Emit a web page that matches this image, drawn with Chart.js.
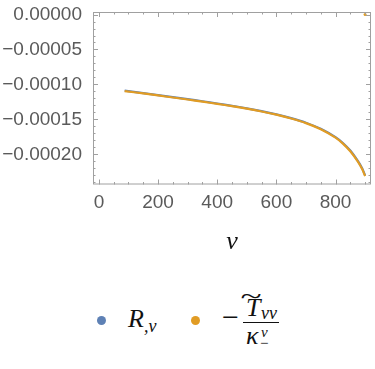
<!DOCTYPE html>
<html>
<head>
  <meta charset="utf-8">
  <title>R,v vs -T/kappa</title>
  <script src="https://cdn.jsdelivr.net/npm/chart.js"></script>
  <style>
    body {
      margin: 0;
      background: #fff;
      width: 375px;
      height: 369px;
      position: relative;
      overflow: hidden;
    }
    .chart-box {
      position: absolute;
      left: 0;
      top: 0;
      width: 375px;
      height: 270px;
    }
    /* legend drawn as plain html, Mathematica style */
    .legend {
      position: absolute;
      left: 0;
      top: 290px;
      width: 375px;
      height: 70px;
      font-family: "Liberation Serif", "DejaVu Serif", serif;
      font-style: italic;
      color: #111;
    }
    .legend span { position: absolute; line-height: 1; white-space: nowrap; }
    .dot { width: 9px; height: 9px; border-radius: 50%; }
    .big { font-size: 26px; }
    .small { font-size: 18px; }
    .tiny { font-size: 15px; }
    .up { font-style: normal; }
    .bar { width: 36px; height: 1px; background: #111; }
  </style>
</head>
<body>
  <div class="chart-box">
    <canvas id="rvChart"></canvas>
  </div>
  <div class="legend">
    <span class="dot" style="left:97px; top:25.5px; background:#5E81B5;"></span>
    <span class="big" style="left:128px; top:16px;">R</span>
    <span class="small" style="left:144px; top:27px;">,v</span>

    <span class="dot" style="left:190.5px; top:25.5px; background:#E19C24;"></span>
    <span class="up" style="left:222px; top:12px; font-size:30px;">&minus;</span>
    <span class="big up" style="left:244px; top:-7px; transform:scaleX(1.5);">~</span>
    <span class="big" style="left:246px; top:5px;">T</span>
    <span class="small" style="left:261px; top:14px;">vv</span>
    <span class="bar" style="left:243px; top:31.5px;"></span>
    <span class="big" style="left:246px; top:33px;">&kappa;</span>
    <span class="tiny" style="left:261px; top:35px;">v</span>
    <span class="tiny up" style="left:260px; top:46px;">&minus;</span>
  </div>

  <script>
    // values
    const vPoints = [87, 150, 200, 250, 300, 350, 400, 450, 500, 550, 600, 650, 700, 750, 800, 825, 850, 875, 890, 900];
    const rvValues = [-0.0001089, -0.0001123, -0.0001152, -0.0001181, -0.000121, -0.000124, -0.0001272, -0.0001305,
      -0.0001341, -0.0001381, -0.0001427, -0.0001481, -0.0001547, -0.0001633, -0.0001752, -0.0001836, -0.0001944,
      -0.000209, -0.0002198, -0.0002298];
    const tkValues = [-0.0001094, -0.0001128, -0.0001157, -0.0001186, -0.0001215, -0.0001245, -0.0001277, -0.000131,
      -0.0001346, -0.0001386, -0.0001432, -0.0001487, -0.0001553, -0.000164, -0.000176, -0.0001845, -0.0001955,
      -0.00021, -0.000221, -0.000231];
    // stray orange point at the top right corner
    const tkExtraV = [900];
    const tkExtraVal = [0];

    const xTicks = [0, 200, 400, 600, 800];
    const yTicks = [0, -0.00005, -0.0001, -0.00015, -0.0002];
    const xMinor = 50;
    const yMinor = 0.00001;

    const toXY = (xs, ys) => xs.map((x, i) => ({ x: x, y: ys[i] }));

    // frame with inward ticks, like Mathematica
    const frameTicks = {
      id: 'frameTicks',
      afterDraw(chart) {
        const { ctx, chartArea: a, scales } = chart;
        const xs = scales.x, ys = scales.y;
        ctx.save();
        ctx.strokeStyle = '#a0a0a0';
        ctx.lineWidth = 1;
        ctx.strokeRect(a.left + 0.5, a.top + 0.5, a.right - a.left - 1, a.bottom - a.top - 1);
        ctx.beginPath();
        for (let v = Math.ceil(xs.min / xMinor) * xMinor; v <= xs.max; v += xMinor) {
          const len = xTicks.includes(v) ? 5 : 2.5;
          const px = Math.round(xs.getPixelForValue(v)) + 0.5;
          ctx.moveTo(px, a.bottom); ctx.lineTo(px, a.bottom - len);
          ctx.moveTo(px, a.top); ctx.lineTo(px, a.top + len);
        }
        for (let k = Math.ceil(ys.min / yMinor); k * yMinor <= ys.max; k++) {
          const len = k % 5 === 0 ? 5 : 2.5;
          const py = Math.round(ys.getPixelForValue(k * yMinor)) + 0.5;
          ctx.moveTo(a.left, py); ctx.lineTo(a.left + len, py);
          ctx.moveTo(a.right, py); ctx.lineTo(a.right - len, py);
        }
        ctx.stroke();
        ctx.restore();
      }
    };

    const tickFont = { family: 'Liberation Sans, Arial, sans-serif', size: 19 };

    const ctx = document.getElementById('rvChart').getContext('2d');
    const rvChart = new Chart(ctx, {
      type: 'line',
      data: {
        datasets: [
          {
            label: 'R,v',
            data: toXY(vPoints, rvValues),
            borderColor: '#5E81B5',
            borderWidth: 2.2,
            pointRadius: 0,
            tension: 0.3,
            fill: false,
            order: 3
          },
          {
            label: '-T/kappa',
            data: toXY(vPoints, tkValues),
            borderColor: '#E19C24',
            borderWidth: 2.2,
            pointRadius: 0,
            tension: 0.3,
            fill: false,
            order: 2
          },
          {
            label: 'extra',
            data: toXY(tkExtraV, tkExtraVal),
            borderColor: '#E19C24',
            backgroundColor: '#E19C24',
            showLine: false,
            pointRadius: 1.5,
            borderWidth: 0,
            order: 1
          }
        ]
      },
      options: {
        responsive: true,
        maintainAspectRatio: false,
        animation: false,
        layout: { padding: { top: 12, right: 1, left: 0, bottom: 0 } },
        plugins: {
          legend: { display: false },
          tooltip: { enabled: false }
        },
        scales: {
          x: {
            type: 'linear',
            min: -20,
            max: 920,
            afterBuildTicks: (s) => { s.ticks = xTicks.map(v => ({ value: v })); },
            afterFit: (s) => { s.height = 270 - 184.5; },
            grid: { display: false, drawTicks: false },
            border: { display: false },
            ticks: {
              color: '#5a5a5a',
              font: tickFont,
              padding: 7,
              maxRotation: 0,
              callback: (v) => String(v)
            },
            title: {
              display: true,
              text: 'v',
              color: '#111',
              font: { family: 'Liberation Serif, serif', style: 'italic', size: 26 },
              padding: { top: 0, bottom: 12 }
            }
          },
          y: {
            type: 'linear',
            min: -0.000243,
            max: 0.0000036,
            afterBuildTicks: (s) => { s.ticks = yTicks.map(v => ({ value: v })); },
            afterFit: (s) => { s.width = 93; s.paddingTop = 0; s.paddingBottom = 0; },
            grid: { display: false, drawTicks: false },
            border: { display: false },
            ticks: {
              color: '#5a5a5a',
              font: tickFont,
              padding: 11,
              callback: (v) => (v < 0 ? '\u2212' : '') + Math.abs(v).toFixed(5)
            }
          }
        }
      },
      plugins: [frameTicks]
    });
  </script>
</body>
</html>
